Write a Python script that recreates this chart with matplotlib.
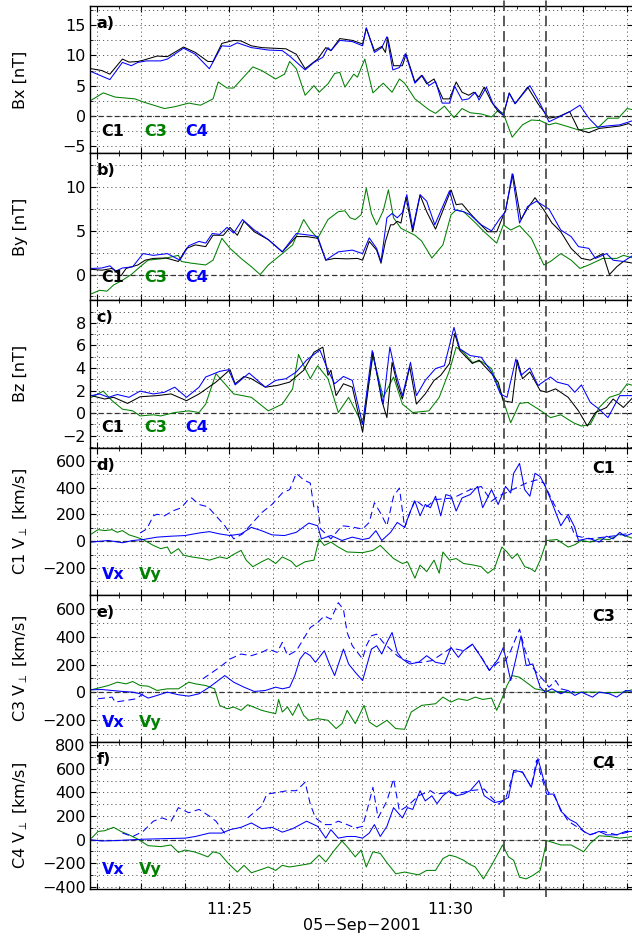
import numpy as np
from matplotlib import pyplot as plt
from matplotlib import transforms
from matplotlib.lines import Line2D
from matplotlib.ticker import MultipleLocator, FuncFormatter

plt.rcParams['font.family'] = ['DejaVu Sans']
plt.rcParams['mathtext.fontset'] = 'dejavusans'
plt.rcParams['lines.scale_dashes'] = False

GREEN = '#008000'
BLUE = '#0000ff'

# time axis: seconds after 11:21:00 UT, 05-Sep-2001
T_START = 51
T_END = 788
event_times = [613, 670]
time_labels = {240: '11:25', 540: '11:30'}

# ---- panel a: Bx [nT]
bx_c1_t = [53, 67, 78, 95, 104, 116, 123, 142, 156, 178, 194, 211, 218, 230, 246, 256, 270, 284, 317, 331,
           343, 360, 371, 378, 390, 407, 421, 426, 437, 447, 452, 455, 463, 475, 480, 492, 501, 508, 518, 530,
           539, 548, 556, 565, 572, 579, 586, 596, 605, 612, 620, 628, 645, 659, 674, 688, 702, 714, 728, 742,
           756, 770, 782, 788]
bx_c1 = [7.8, 7.5, 6.9, 9.4, 8.9, 9.0, 9.2, 9.9, 9.8, 11.4, 10.5, 9.0, 9.0, 12.0, 12.5, 12.4, 11.6, 11.3, 11.1, 10.2,
         7.8, 9.4, 11.3, 10.8, 12.8, 12.5, 11.9, 14.5, 10.8, 11.5, 10.5, 13.0, 8.3, 8.3, 10.2, 5.6, 6.7, 5.3, 6.1, 2.8,
         2.8, 5.6, 3.9, 3.4, 3.9, 3.1, 4.75, 2.3, 0.7, 0.1, 3.8, 2.0, 4.75, 2.0, -0.4, -0.1, 0.7, -2.3, -2.8, -2.1,
         -1.9, -1.7, -1.3, -1.7]
bx_c4_t = [53, 78, 95, 107, 116, 128, 147, 156, 178, 194, 213, 230, 241, 251, 270, 293, 312, 322, 343, 355,
           367, 374, 378, 390, 407, 421, 426, 437, 447, 454, 462, 471, 479, 492, 502, 511, 520, 529, 539, 546,
           556, 565, 574, 579, 589, 598, 612, 620, 628, 648, 662, 674, 702, 716, 728, 740, 752, 770, 788]
bx_c4 = [7.3, 6.0, 8.85, 8.3, 8.85, 9.1, 9.1, 9.4, 11.2, 10.2, 7.8, 11.6, 11.5, 12.1, 11.3, 10.9, 10.8, 9.9, 7.6, 8.85,
         9.7, 11.3, 10.8, 12.5, 12.3, 11.6, 14.6, 10.5, 11.3, 13.1, 7.6, 8.0, 10.3, 5.4, 6.7, 5.0, 5.7, 2.1, 2.1, 4.9,
         2.6, 2.8, 3.9, 2.6, 4.75, 2.0, 0.1, 3.7, 2.0, 5.0, 2.0, -1.0, 0.66, 1.75, -0.4, -1.9, -1.7, -1.5, -0.8]
bx_c3_t = [53, 69, 85, 112, 123, 152, 166, 185, 201, 218, 225, 237, 246, 272, 284, 303, 315, 322, 331, 343,
           355, 362, 374, 383, 390, 397, 409, 414, 424, 435, 449, 461, 471, 478, 492, 511, 520, 532, 545, 556,
           567, 582, 596, 605, 612, 624, 638, 650, 662, 674, 683, 697, 714, 728, 742, 754, 768, 780, 788]
bx_c3 = [2.6, 3.8, 3.1, 2.8, 2.3, 1.2, 1.5, 2.1, 1.75, 2.8, 5.6, 4.6, 4.6, 8.1, 7.5, 6.1, 6.9, 9.0, 7.8, 3.4,
         5.0, 3.9, 5.3, 7.0, 7.2, 4.75, 6.9, 6.4, 9.4, 3.8, 5.4, 3.9, 6.1, 5.4, 2.8, 1.0, 0.4, 1.6, -0.3, 1.2,
         0.5, 0.3, -0.2, 0.9, 0.4, -3.55, -1.5, -0.7, -0.8, -1.5, -1.2, -1.7, -2.35, -2.1, -1.8, -0.4, -0.4, 1.2, 1.0]

# ---- panel b: By [nT]
by_c1_t = [53, 67, 81, 93, 100, 116, 126, 137, 154, 171, 182, 194, 208, 218, 232, 241, 251, 260, 274, 293,
           312, 331, 345, 360, 371, 383, 400, 414, 421, 430, 440, 446, 452, 459, 463, 468, 473, 480, 489, 499,
           508, 520, 541, 548, 556, 567, 579, 591, 603, 615, 625, 636, 645, 655, 667, 678, 690, 704, 718, 730,
           747, 756, 766, 775, 788]
by_c1 = [0.6, 0.5, 0.7, -0.15, 0.7, 1.1, 1.65, 1.85, 1.9, 1.5, 3.0, 3.4, 3.2, 4.5, 4.5, 5.4, 4.5, 6.1, 4.9, 4.0,
         2.6, 4.35, 4.35, 4.15, 1.65, 1.85, 1.8, 1.85, 1.65, 3.8, 2.8, 1.3, 3.8, 5.7, 5.7, 6.1, 5.9, 8.85, 4.9, 9.1,
         7.2, 5.2, 9.7, 8.0, 8.1, 7.0, 5.9, 4.9, 4.9, 7.4, 11.5, 6.3, 7.6, 8.8, 7.4, 5.9, 4.9, 3.0, 1.85, 1.65,
         2.4, 0.0, 0.9, 1.5, 1.3]
by_c4_t = [53, 67, 78, 86, 95, 109, 123, 137, 156, 173, 185, 199, 208, 217, 227, 237, 246, 258, 274, 293,
           312, 331, 350, 360, 371, 388, 407, 421, 430, 440, 446, 454, 461, 468, 475, 481, 489, 499, 508, 519,
           539, 546, 558, 567, 582, 596, 608, 615, 624, 634, 645, 657, 674, 690, 704, 714, 728, 737, 752, 761,
           775, 788]
by_c4 = [0.7, 0.75, 1.0, 0.4, 0.75, 0.9, 2.4, 2.2, 2.4, 1.65, 3.3, 3.8, 3.6, 4.7, 4.6, 5.4, 4.75, 6.3, 5.1, 4.0,
         2.6, 4.7, 4.5, 4.35, 1.65, 2.6, 2.8, 2.4, 4.2, 3.0, 1.5, 6.5, 7.0, 6.5, 7.1, 9.15, 5.3, 9.15, 8.4, 5.7,
         9.6, 7.4, 7.2, 6.85, 5.7, 5.0, 6.5, 7.2, 11.55, 5.9, 7.8, 8.4, 7.5, 5.1, 4.35, 3.2, 3.0, 1.85, 2.4, 1.65,
         1.5, 2.2]
by_c3_t = [53, 64, 74, 83, 95, 107, 119, 130, 152, 171, 175, 189, 208, 218, 230, 241, 256, 270, 282, 293,
           312, 326, 341, 350, 360, 374, 388, 397, 404, 411, 419, 426, 433, 440, 449, 456, 463, 473, 492, 501,
           515, 530, 541, 548, 558, 572, 586, 603, 612, 622, 634, 650, 667, 676, 690, 704, 716, 728, 747, 766,
           775, 788]
by_c3 = [-2.2, -1.8, -1.9, -1.2, -0.65, 0.0, 0.9, 1.65, 1.85, 2.2, 1.5, 1.3, 1.1, 1.65, 4.15, 3.0, 1.85, 0.9, 0.0, 1.1,
         2.4, 3.4, 6.3, 5.1, 4.15, 6.3, 7.2, 7.3, 6.5, 6.3, 6.85, 9.9, 7.0, 5.7, 7.3, 9.7, 6.5, 5.3, 4.5, 3.85,
         1.9, 3.4, 6.85, 7.4, 7.2, 6.1, 4.9, 3.6, 5.7, 5.1, 5.6, 4.15, 1.1, 1.5, 2.4, 1.65, 0.7, 1.1, 1.85, 1.85,
         2.2, 1.9]

# ---- panel c: Bz [nT]
bz_c1_t = [53, 71, 83, 102, 119, 142, 161, 182, 199, 222, 241, 248, 260, 270, 289, 305, 322, 341, 355, 367,
           374, 378, 385, 395, 407, 421, 435, 447, 454, 461, 468, 475, 485, 494, 506, 518, 527, 539, 546, 553,
           570, 579, 596, 605, 612, 624, 631, 638, 648, 662, 671, 683, 700, 714, 726, 737, 752, 761, 775, 788]
bz_c1 = [1.55, 1.25, 1.4, 0.86, 1.45, 1.55, 1.7, 1.1, 1.7, 2.75, 3.85, 2.6, 3.25, 3.05, 2.3, 2.45, 2.75, 3.8, 5.4, 5.85,
         3.35, 3.8, 1.55, 2.6, 2.3, -1.7, 5.4, 1.1, -0.4, 4.5, 2.6, 1.25, 4.1, 0.8, 1.7, 2.9, 3.35, 4.4, 7.05, 5.55,
         4.4, 4.7, 3.5, 2.75, 1.1, 0.95, 4.7, 3.05, 3.65, 2.0, 1.85, 2.15, 1.4, 0.2, -1.15, 0.05, 0.5, 1.25, 0.5, 1.4]
bz_c4_t = [53, 64, 76, 88, 104, 119, 137, 152, 166, 182, 199, 208, 227, 239, 248, 267, 289, 303, 317, 331,
           345, 363, 374, 383, 395, 407, 421, 434, 449, 458, 466, 475, 486, 494, 506, 520, 532, 545, 553, 567,
           582, 596, 608, 617, 629, 636, 648, 659, 676, 685, 700, 709, 718, 730, 742, 754, 770, 788]
bz_c4 = [1.55, 1.7, 1.4, 1.65, 1.4, 1.95, 1.7, 1.85, 2.3, 1.4, 2.3, 3.2, 3.7, 3.85, 2.5, 3.55, 2.3, 2.9, 3.05, 3.65,
         4.7, 5.6, 3.8, 2.6, 3.25, 2.9, -1.0, 5.55, 0.8, 5.85, 3.5, 1.55, 4.5, 1.55, 2.9, 3.95, 4.2, 7.6, 5.7, 5.1,
         4.95, 3.65, 1.7, 1.4, 4.8, 3.35, 4.0, 2.45, 3.2, 2.75, 2.5, 1.85, 2.5, 0.95, 0.35, -0.4, 1.55, 1.55]
bz_c3_t = [53, 69, 81, 95, 109, 119, 137, 147, 166, 185, 199, 208, 222, 246, 270, 293, 312, 326, 334, 343,
           350, 360, 374, 388, 402, 421, 435, 449, 463, 475, 489, 511, 525, 539, 548, 558, 570, 582, 596, 608,
           615, 622, 634, 645, 662, 676, 690, 707, 718, 730, 742, 756, 770, 780, 788]
bz_c3 = [1.4, 1.95, 1.1, 0.35, 0.2, -0.25, -0.15, -0.25, 0.05, 0.2, 0.05, 0.8, 3.5, 1.7, 1.4, 0.2, 0.8, 2.15, 5.2, 3.95,
         3.05, 4.2, 3.05, 0.05, 1.4, -1.0, 5.1, 1.4, 3.2, 0.8, 0.05, 0.2, 1.4, 3.8, 5.85, 5.4, 4.5, 4.6, 3.95, 1.85,
         0.5, -0.85, 0.85, 0.95, 0.25, -0.4, -0.15, -0.85, -1.15, -1.0, 0.5, 1.4, 1.7, 2.6, 2.45]

# ---- panel d: C1 V_perp [km/s]
c1_vx_t = [53, 76, 95, 109, 123, 142, 161, 180, 199, 213, 227, 241, 256, 270, 284, 298, 315, 331, 348, 360,
           365, 378, 393, 407, 421, 430, 439, 447, 459, 468, 478, 485, 492, 499, 506, 513, 520, 527, 534, 541,
           548, 556, 567, 577, 584, 596, 605, 615, 622, 626, 634, 641, 648, 655, 662, 669, 678, 690, 700, 709,
           714, 728, 742, 752, 761, 770, 777, 788]
c1_vx = [-7, 5, -12, 5, 12, 30, 37, 42, 61, 71, 54, 42, 54, 103, 78, 47, 42, 66, 135, 115,
         17, 42, 5, 30, 12, 22, 78, 5, 66, 140, 103, 213, 299, 189, 274, 250, 336, 189, 348, 336,
         225, 323, 348, 409, 250, 385, 274, 409, 360, 507, 581, 385, 336, 507, 483, 409, 287, 115, 201, 103,
         5, 22, -7, 37, 17, 66, 37, 61]
c1_vx2_t = [119, 128, 137, 142, 152, 163, 175, 185, 189, 199, 211, 222, 234, 246, 258, 270, 284, 298, 312, 322,
            331, 341, 350, 355, 360, 364, 378, 393, 402, 421, 430, 437, 445, 454, 463, 471, 478, 492, 506, 520,
            544, 567, 582, 596, 605, 615, 629, 643, 657, 667, 681, 690, 700, 709, 728, 747, 766, 785]
c1_vx2 = [61, 91, 189, 201, 189, 225, 250, 316, 323, 274, 257, 189, 115, 17, 54, 127, 213, 274, 360, 385,
          507, 458, 434, 250, 262, 91, 17, 115, 110, 91, 140, 287, 213, 115, 336, 397, 103, 311, 250, 311,
          323, 385, 409, 299, 336, 360, 397, 434, 458, 434, 274, 201, 176, 42, 17, 29, 42, 61]
c1_vy_t = [53, 62, 71, 81, 88, 95, 104, 114, 123, 137, 147, 156, 161, 171, 178, 189, 204, 213, 227, 237,
           244, 256, 263, 272, 284, 293, 303, 312, 324, 331, 343, 355, 362, 369, 378, 388, 400, 421, 435, 445,
           454, 463, 475, 482, 492, 499, 508, 518, 525, 530, 539, 548, 558, 572, 582, 591, 600, 610, 617, 624,
           631, 641, 648, 655, 662, 671, 685, 700, 709, 718, 730, 742, 756, 770, 788]
c1_vy = [54, 86, 79, 86, 66, 79, 47, 30, 12, -32, -56, -44, -93, -56, -105, -118, -130, -142, -118, -130,
         -105, -69, -142, -191, -154, -130, -167, -118, -150, -191, -154, -142, 17, -32, -7, -44, -81, -86, -69, -32,
         -81, -130, -167, -155, -277, -179, -228, -142, -240, -81, -142, -130, -167, -179, -191, -240, -203, -44, -81, -130,
         -93, -191, -203, -228, -142, 5, 12, -44, -27, 5, -7, 17, 12, 54, 20]

# ---- panel e: C3 V_perp [km/s]
c3_vx_t = [53, 67, 81, 95, 109, 119, 130, 142, 156, 171, 185, 199, 213, 222, 234, 246, 260, 274, 289, 303,
           312, 322, 329, 336, 343, 350, 357, 369, 376, 383, 395, 402, 411, 421, 433, 440, 447, 454, 461, 468,
           475, 485, 497, 508, 520, 532, 541, 551, 558, 570, 582, 593, 605, 612, 622, 629, 636, 643, 652, 662,
           669, 678, 690, 700, 709, 718, 733, 742, 756, 766, 778, 788]
c3_vx = [17, 19, 12, 5, 0, -12, -43, -24, 0, -19, -29, -12, 36, 72, 120, 72, 36, 5, 12, 36,
         24, 36, 120, 240, 288, 264, 216, 300, 204, 120, 312, 204, 144, 84, 312, 336, 276, 360, 432, 288,
         240, 204, 216, 264, 216, 204, 324, 252, 300, 348, 252, 156, 240, 324, 84, 240, 408, 192, 204, 36,
         0, 24, -12, 12, -24, 0, -36, 0, -12, -36, 12, 5]
c3_vx2_t = [62, 81, 85, 100, 114, 123, np.nan, 204, 227, 241, 256, 270, 284, 293, 305, 312, 319, 331, 338, 350,
            360, 369, 378, 388, 395, 400, 407, 414, 421, 426, 433, 440, 449, 461, 468, 475, 487, 501, 515, 541,
            558, 570, 582, 593, 605, 615, 622, 634, 641, 648, 657, 667, 674, 683, 690, 709]
c3_vx2 = [-48, -36, -72, -60, -48, -12, np.nan, 96, 180, 240, 276, 264, 288, 312, 288, 360, 264, 300, 360, 468,
          504, 552, 528, 648, 600, 432, 336, 288, 240, 336, 408, 420, 360, 300, 264, 240, 216, 216, 228, 320,
          300, 345, 255, 160, 216, 228, 300, 456, 312, 204, 144, 84, 36, 84, 24, 0]
c3_vy_t = [53, 67, 76, 88, 100, 109, 119, 130, 142, 156, 171, 185, 194, 208, 220, 227, 237, 246, 256, 265,
           274, 284, 293, 303, 307, 312, 319, 326, 334, 341, 348, 360, 374, 385, 393, 400, 411, 423, 430, 440,
           454, 466, 478, 487, 501, 520, 530, 541, 551, 563, 574, 584, 596, 603, 610, 617, 624, 634, 643, 655,
           667, 676, 690, 704, 718, 737, 756, 775, 788]
c3_vy = [17, 36, 48, 72, 60, 77, 48, 43, 12, 24, 24, 72, 60, 48, 24, -96, -120, -108, -132, -91,
         -110, -132, -144, -156, -53, -144, -108, -168, -84, -168, -204, -192, -204, -264, -228, -132, -228, -96, -216, -252,
         -204, -264, -269, -144, -96, -84, -36, -72, -48, -60, -36, -53, -43, -132, -48, 48, 120, 108, 72, 24,
         12, 0, 5, -5, 0, 0, -5, 0, 19]

# ---- panel f: C4 V_perp [km/s]
c4_vx_t = [53, 67, 85, 104, 123, 142, 161, 180, 194, 213, 230, 241, 256, 270, 284, 298, 312, 326, 345, 360,
           371, 378, 388, 400, 411, 421, 430, 437, 445, 454, 463, 475, 482, 489, 499, 506, 515, 522, 530, 539,
           548, 558, 567, 579, 586, 600, 610, 619, 626, 638, 650, 659, 667, 674, 681, 690, 702, 711, 721, 730,
           742, 752, 766, 778, 788]
c4_vx = [-3, -12, -9, -3, 3, 6, 9, 12, 26, 55, 55, 84, 104, 141, 92, 104, 63, 92, 156, 112,
         12, 84, 12, 26, 26, 12, 55, 127, 26, 112, 271, 184, 271, 256, 415, 328, 372, 305, 372, 415,
         372, 386, 415, 501, 372, 314, 328, 357, 588, 573, 444, 688, 501, 386, 386, 242, 170, 141, 69, 40,
         69, 40, 40, 69, 69]
c4_vx2_t = [95, 109, 123, 137, 149, 161, 171, 185, 199, 213, 222, 237, np.nan, 265, 284, 291, 305, 319, 331, 343,
            350, 357, 369, 378, 388, 400, 411, 421, 428, 435, 442, 454, 463, 471, 482, 497, 513, 520, 539, 548,
            567, 586, 596, 605, 615, 626, 638, 650, 657, 671, 681, 690, 700, 718, 728, 747, 766, 785]
c4_vx2 = [55, 26, 69, 156, 184, 156, 271, 228, 256, 199, 156, 26, np.nan, 184, 285, 386, 400, 415, 415, 487,
          300, 184, 127, 127, 156, 127, 98, 112, 271, 444, 184, 328, 516, 242, 285, 372, 415, 386, 400, 386,
          415, 429, 357, 300, 343, 573, 573, 444, 674, 386, 372, 256, 156, 84, 40, 69, 40, 69]
c4_vy_t = [53, 62, 71, 83, 93, 104, 116, 130, 147, 161, 171, 180, 192, 199, 211, 218, 227, 239, 251, 260,
           270, 284, 293, 303, 312, 322, 336, 350, 362, 371, 381, 393, 402, 411, 419, 426, 435, 445, 454, 466,
           478, 497, 508, 520, 530, 539, 548, 558, 567, 574, 585, 596, 611, 619, 626, 634, 643, 652, 662, 671,
           690, 704, 721, 730, 742, 756, 770, 788]
c4_vy = [12, 69, 75, 104, 69, 40, 3, -52, -60, -46, -109, -89, -104, -118, -147, -104, -118, -204, -276, -219,
         -282, -253, -233, -262, -219, -233, -219, -204, -132, -190, -104, -12, -75, -147, -89, -233, -104, -118, -196, -291,
         -276, -300, -262, -262, -161, -132, -147, -176, -213, -233, -334, -219, -46, -147, -176, -320, -334, -305, -262, -9,
         -46, -46, -104, -32, 32, 26, 12, 26]

y_labels = ['Bx [nT]', 'By [nT]', 'Bz [nT]',
            'C1 V$_{\\perp}$ [km/s]', 'C3 V$_{\\perp}$ [km/s]', 'C4 V$_{\\perp}$ [km/s]']
panel_letters = ['a)', 'b)', 'c)', 'd)', 'e)', 'f)']
y_limits = [(-6.2, 18.2), (-2.95, 13.9), (-3.05, 10.0), (-400, 700), (-360, 706), (-420, 830)]
y_ticks = [[-5, 0, 5, 10, 15], [0, 5, 10], [-2, 0, 2, 4, 6, 8],
           [-200, 0, 200, 400, 600], [-200, 0, 200, 400, 600], [-400, -200, 0, 200, 400, 600, 800]]
y_minor = [2.5, 2.5, 1, 100, 100, 100]


def style_axis(ax, ylim, yticks, yminor):
    ax.set_xlim(T_START, T_END)
    ax.set_ylim(*ylim)
    ax.set_yticks(yticks)
    ax.yaxis.set_minor_locator(MultipleLocator(yminor))
    ax.xaxis.set_major_locator(MultipleLocator(60))
    ax.xaxis.set_minor_locator(MultipleLocator(30))
    ax.tick_params(which='both', direction='in', top=True, right=True, labelsize=11.5)
    ax.tick_params(which='major', length=4, width=0.8)
    ax.tick_params(which='minor', length=2, width=0.6)
    ax.tick_params(axis='y', pad=3)
    ax.tick_params(axis='x', pad=9, labelbottom=False)
    grid_style = dict(color='0.35', linewidth=0.7, linestyle=(0, (0.8, 2.2)))
    ax.grid(which='major', axis='x', **grid_style)
    ax.grid(which='both', axis='y', **grid_style)
    ax.axhline(0, color='0.2', linewidth=0.9, linestyle=(0, (3.6, 2.2)), zorder=1.8)
    for sp in ax.spines.values():
        sp.set_linewidth(1.0)


def cluster_overview_plotting():
    fig = plt.figure(figsize=(6.32, 9.39), dpi=100)
    left, width = 90 / 632, 543 / 632
    top_px, bottom_px = 6, 889
    h = (bottom_px - top_px) / 6
    axs = []
    for i in range(6):
        y0 = 1 - (top_px + (i + 1) * h) / 939
        axs.append(fig.add_axes([left, y0, width, h / 939]))

    for ax, ylim, yt, ym in zip(axs, y_limits, y_ticks, y_minor):
        style_axis(ax, ylim, yt, ym)

    lw = 0.75
    # magnetic field panels
    b_series = [
        [(bx_c3_t, bx_c3), (bx_c1_t, bx_c1), (bx_c4_t, bx_c4)],
        [(by_c3_t, by_c3), (by_c1_t, by_c1), (by_c4_t, by_c4)],
        [(bz_c3_t, bz_c3), (bz_c1_t, bz_c1), (bz_c4_t, bz_c4)],
    ]
    for ax, series in zip(axs[:3], b_series):
        for (t, v), color in zip(series, [GREEN, 'black', BLUE]):
            ax.plot(t, v, color=color, linewidth=lw, zorder=3)

    # velocity panels
    v_series = [
        (c1_vx_t, c1_vx, c1_vx2_t, c1_vx2, c1_vy_t, c1_vy),
        (c3_vx_t, c3_vx, c3_vx2_t, c3_vx2, c3_vy_t, c3_vy),
        (c4_vx_t, c4_vx, c4_vx2_t, c4_vx2, c4_vy_t, c4_vy),
    ]
    for ax, (tx, vx, tx2, vx2, ty, vy) in zip(axs[3:], v_series):
        ax.plot(ty, vy, color=GREEN, linewidth=lw, zorder=3)
        ax.plot(tx2, vx2, color=BLUE, linewidth=lw, linestyle=(0, (5, 3)), zorder=3)
        ax.plot(tx, vx, color=BLUE, linewidth=lw, zorder=3)

    # annotations
    sc_y = [0.147, 0.154, 0.137]
    for ax, y in zip(axs[:3], sc_y):
        for name, color, x in [('C1', 'black', 0.020), ('C3', GREEN, 0.099), ('C4', BLUE, 0.175)]:
            ax.text(x, y, name, color=color, transform=ax.transAxes, fontsize=11.5,
                    fontweight='bold', ha='left', va='center', zorder=5)
    v_y = [0.136, 0.132, 0.13]
    for ax, y, sc in zip(axs[3:], v_y, ['C1', 'C3', 'C4']):
        ax.text(0.022, y, 'Vx', color=BLUE, transform=ax.transAxes, fontsize=11.5,
                fontweight='bold', ha='left', va='center', zorder=5)
        ax.text(0.090, y, 'Vy', color=GREEN, transform=ax.transAxes, fontsize=11.5,
                fontweight='bold', ha='left', va='center', zorder=5)
        ax.text(0.967, 0.855, sc, color='black', transform=ax.transAxes, fontsize=11.5,
                fontweight='bold', ha='right', va='center', zorder=5)
    for ax, letter in zip(axs, panel_letters):
        ax.text(0.012, 0.88, letter, transform=ax.transAxes, fontsize=11.5,
                fontweight='bold', ha='left', va='center', zorder=5)

    for ax, label in zip(axs, y_labels):
        pos = ax.get_position()
        fig.text(20.5 / 632, (pos.y0 + pos.y1) / 2, label, rotation=90,
                 ha='center', va='center', fontsize=11.5)

    # bottom time axis
    axs[-1].tick_params(axis='x', labelbottom=True)
    axs[-1].xaxis.set_major_formatter(FuncFormatter(lambda x, pos: time_labels.get(int(round(x)), '')))
    axs[-1].set_xlabel('05\u2212Sep\u22122001', fontsize=11.5, labelpad=1)

    # event lines spanning all panels
    blend = transforms.blended_transform_factory(axs[-1].transData, fig.transFigure)
    for t in event_times:
        fig.add_artist(Line2D([t, t], [1 - 897 / 939, 1.0], transform=blend, color='0.25',
                              linewidth=1.2, linestyle=(0, (7.5, 3.5)), zorder=10))

    fig.savefig('out.png', dpi=100)


if __name__ == "__main__":
    cluster_overview_plotting()
